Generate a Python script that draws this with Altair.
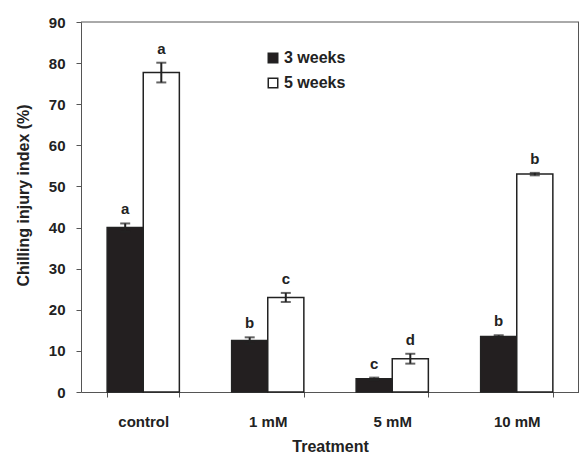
import altair as alt
import pandas as pd

treatments = ["control", "1 mM", "5 mM", "10 mM"]
weeks = ["3 weeks", "5 weeks"]
vals_3w = [40.0, 12.5, 3.2, 13.5]
vals_5w = [77.7, 23.0, 8.1, 53.0]
err_3w = [1.0, 0.8, 0.3, 0.3]
err_5w = [2.4, 1.1, 1.2, 0.3]
letters_3w = ["a", "b", "c", "b"]
letters_5w = ["a", "c", "d", "b"]

rows = []
for i, t in enumerate(treatments):
    rows.append(dict(t=t, w=weeks[0], v=vals_3w[i], e=err_3w[i], l=letters_3w[i]))
    rows.append(dict(t=t, w=weeks[1], v=vals_5w[i], e=err_5w[i], l=letters_5w[i]))
df = pd.DataFrame(rows)
df["lo"] = df["v"] - df["e"]
df["hi"] = df["v"] + df["e"]

FONT = "Liberation Sans"
INK = "#222"
AXC = "#555"
W = 498

x = alt.X("t:N", sort=treatments, title="Treatment",
          scale=alt.Scale(paddingInner=0.42, paddingOuter=0.21),
          axis=alt.Axis(labelAngle=0, tickBand="extent", tickSize=5, labelPadding=17,
                        titlePadding=9, labelFontSize=15, titleFontSize=16,
                        labelFont=FONT, titleFont=FONT, labelFontWeight="bold",
                        titleFontWeight="bold", labelColor=INK, titleColor=INK,
                        domainColor=AXC, tickColor=AXC))
xo = alt.XOffset("w:N", sort=weeks, scale=alt.Scale(paddingInner=0, paddingOuter=0))
y = alt.Y("v:Q", title="Chilling injury index (%)",
          scale=alt.Scale(domain=[0, 90]),
          axis=alt.Axis(values=list(range(0, 91, 10)), grid=False, tickSize=5,
                        labelPadding=11, labelFontSize=15, titleFontSize=16,
                        labelFont=FONT, titleFont=FONT, labelFontWeight="bold",
                        titleFontWeight="bold", labelColor=INK, titleColor=INK,
                        domainColor=AXC, tickColor=AXC,
                        titleX=-58, titleY=173, titleBaseline="middle"))

base = alt.Chart(df)

bars = base.mark_bar(stroke=INK, strokeWidth=1.5).encode(
    x=x, xOffset=xo, y=y,
    fill=alt.Fill("w:N", sort=weeks,
                  scale=alt.Scale(domain=weeks, range=["#231f20", "#ffffff"]),
                  legend=alt.Legend(title=None, orient="none", legendX=184, legendY=28,
                                    symbolType="square", symbolSize=90,
                                    symbolStrokeColor=INK, symbolStrokeWidth=1.5,
                                    labelFontSize=16, labelFont=FONT,
                                    labelFontWeight="bold", labelColor=INK,
                                    rowPadding=9, labelOffset=3)),
)

err = base.mark_rule(color=INK, strokeWidth=2).encode(
    x=x, xOffset=xo, y="lo:Q", y2="hi:Q")
cap_hi = base.mark_tick(color=INK, thickness=2, size=10, orient="horizontal").encode(
    x=x, xOffset=xo, y="hi:Q")
cap_lo = base.mark_tick(color=INK, thickness=2, size=10, orient="horizontal").encode(
    x=x, xOffset=xo, y="lo:Q")
txt = base.mark_text(dy=-14, fontSize=15, font=FONT, fontWeight="bold", color=INK).encode(
    x=x, xOffset=xo, y="hi:Q", text="l:N")

top_line = alt.Chart(pd.DataFrame({"top": [90]})).mark_rule(color=AXC, strokeWidth=1).encode(
    y=alt.Y("top:Q"))
right_line = alt.Chart(pd.DataFrame({"r": [0]})).mark_rule(color=AXC, strokeWidth=1).encode(
    x=alt.value(W - 0.5))

chart = alt.layer(bars, err, cap_hi, cap_lo, txt, top_line, right_line).properties(
    width=W, height=370,
    padding={"left": 73, "top": 14, "right": 0, "bottom": 65},
    autosize=alt.AutoSizeParams(type="none"),
    background="white",
).configure_view(stroke=None)

chart.save("out.html", embed_options={"renderer": "svg", "actions": False})
